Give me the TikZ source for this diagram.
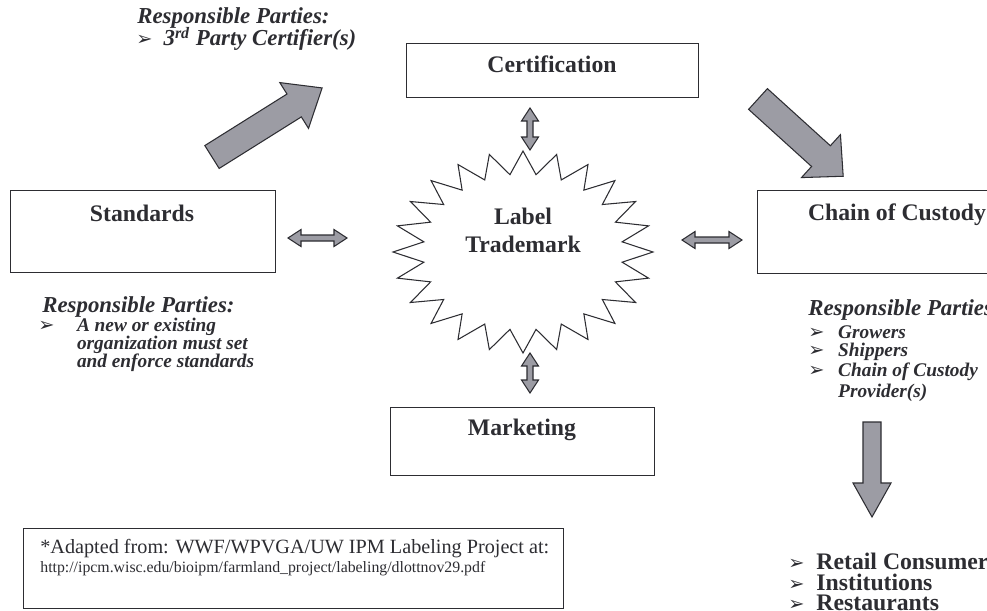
\documentclass[tikz,border=0pt]{standalone}
\usepackage{fontspec}
\setmainfont{Liberation Serif}
\newfontfamily\dejavu{DejaVu Sans}
\usepackage{tikz}
\usetikzlibrary{calc}

\definecolor{arrowgray}{RGB}{156,156,164}
\definecolor{inkgray}{RGB}{45,45,50}

\newcommand{\bul}{{\dejavu\fontsize{11}{11}\selectfont ➢}}

% fat arrow: tail, angle, length, shaft half width, head half width, head length
\newcommand{\fatarrow}[6]{%
  \begin{scope}[shift={(#1)}, rotate=#2]
    \draw[arrow_style] (0,-#4) -- (#3-#6,-#4) -- (#3-#6,-#5) -- (#3,0)
      -- (#3-#6,#5) -- (#3-#6,#4) -- (0,#4) -- cycle;
  \end{scope}}
% small double arrows between two named coordinates
\newcommand{\hdouble}[2]{%
  \draw[arrow_style] (#1) -- ++(13,8.5) -- ++(0,-5.5) -- ($(#2)+(-13,3)$) -- ++(0,5.5)
    -- (#2) -- ++(-13,-8.5) -- ++(0,5.5) -- ($(#1)+(13,-3)$) -- ++(0,-5.5) -- cycle;}
\newcommand{\vdouble}[2]{%
  \draw[arrow_style] (#1) -- ++(8.5,-13) -- ++(-5.5,0) -- ($(#2)+(3,13)$) -- ++(5.5,0)
    -- (#2) -- ++(-8.5,13) -- ++(5.5,0) -- ($(#1)+(-3,-13)$) -- ++(-5.5,0) -- cycle;}

\begin{document}
\begin{tikzpicture}[x=0.02cm, y=0.02cm,
		box_style/.style={draw=inkgray, line width=0.8pt, anchor=north west, inner sep=0pt},
		title_style/.style={text=inkgray, font=\fontsize{13.5}{15}\selectfont\bfseries},
		party_style/.style={text=inkgray, anchor=west, inner sep=0pt, font=\fontsize{13}{14}\selectfont\bfseries\itshape},
		item_style/.style={text=inkgray, anchor=west, inner sep=0pt, font=\fontsize{11}{11}\selectfont\bfseries\itshape},
		list_style/.style={text=inkgray, anchor=west, inner sep=0pt, font=\fontsize{13.5}{14}\selectfont\bfseries},
		arrow_style/.style={draw=inkgray, line width=0.6pt, fill=arrowgray, line join=miter},
		star_style/.style={draw=inkgray, line width=0.6pt, fill=white}]

		\useasboundingbox (0,0) rectangle (987,-610);
		\clip (0,0) rectangle (987,-610);
		\fill[white] (0,0) rectangle (987,-610);

		% boxes
		\node[box_style, minimum width=5.3cm, minimum height=1.64cm] (standards) at (10,-190) {};
		\node[box_style, minimum width=5.84cm, minimum height=1.08cm] (certification) at (406,-43) {};
		\node[box_style, minimum width=5.28cm, minimum height=1.36cm] (marketing) at (390,-407) {};
		\node[box_style, minimum width=5.3cm, minimum height=1.66cm] (custody) at (757,-190) {};
		\node[box_style, minimum width=10.8cm, minimum height=1.6cm] (source) at (23,-528) {};

		\node[title_style] (standardsT) at (142,-213) {Standards};
		\node[title_style] (certificationT) at (552,-64) {Certification};
		\node[title_style] (marketingT) at (522,-430) {Marketing};
		\node[title_style] (custodyT) at (897,-215) {Chain of Custody};

		% label star
		\begin{scope}[shift={(523,-252)}]
			\draw[star_style] (90:130 and 101)
				\foreach \k in {0,...,23} { -- ({97.5+15*\k}:100 and 78) -- ({105+15*\k}:130 and 101) } -- cycle;
		\end{scope}
		\node[title_style, align=center] (label) at (523,-230) {Label\\[1pt]Trademark};

		% double arrows
		\coordinate (stdL) at (288,-238);
		\coordinate (stdR) at (347,-238);
		\coordinate (custL) at (682,-240);
		\coordinate (custR) at (742,-240);
		\coordinate (certT) at (530,-108);
		\coordinate (certB) at (530,-150);
		\coordinate (mktT) at (530,-353);
		\coordinate (mktB) at (530,-393);
		\hdouble{stdL}{stdR}
		\hdouble{custL}{custR}
		\vdouble{certT}{certB}
		\vdouble{mktT}{mktB}

		% big arrows
		\coordinate (toCert) at (212,-157);
		\coordinate (toCustody) at (758,-99);
		\coordinate (toBuyers) at (872,-422);
		\fatarrow{toCert}{32.1}{130}{13.5}{27}{33}
		\fatarrow{toCustody}{-42.2}{115}{14}{29}{30}
		\fatarrow{toBuyers}{-90}{95}{9}{19}{34}

		% responsible parties
		\node[party_style] (certParty) at (137,-18) {Responsible Parties:};
		\node[party_style] (certItem) at (136,-39) {\makebox[15.5pt][l]{\bul}3\textsuperscript{rd} Party Certifier(s)};

		\node[party_style] (stdParty) at (42,-307) {Responsible Parties:};
		\node[item_style] (stdItem1) at (38,-327) {\makebox[22pt][l]{\bul}A new or existing};
		\node[item_style] (stdItem2) at (38,-345) {\hspace*{22pt}organization must set};
		\node[item_style] (stdItem3) at (38,-363) {\hspace*{22pt}and enforce standards};

		\node[party_style] (custParty) at (808,-310) {Responsible Parties:};
		\node[item_style] (custItem1) at (808,-332) {\makebox[17pt][l]{\bul}Growers};
		\node[item_style] (custItem2) at (808,-352) {\makebox[17pt][l]{\bul}Shippers};
		\node[item_style] (custItem3) at (808,-372) {\makebox[17pt][l]{\bul}Chain of Custody};
		\node[item_style] (custItem4) at (808,-393) {\hspace*{17pt}Provider(s)};

		% buyers
		\node[list_style] (retail) at (788,-561) {\makebox[16pt][l]{\bul}Retail Consumers};
		\node[list_style] (institutions) at (788,-582) {\makebox[16pt][l]{\bul}Institutions};
		\node[list_style] (restaurants) at (788,-603) {\makebox[16pt][l]{\bul}Restaurants};

		% source note
		\node[text=inkgray, anchor=north west, inner sep=0pt, align=left, font=\fontsize{11.5}{12}\selectfont] (sourceT) at (40,-539)
			{*Adapted from: WWF/WPVGA/UW IPM Labeling Project at:\\[-1pt]
			{\fontsize{9}{10}\selectfont http://ipcm.wisc.edu/bioipm/farmland\_project/labeling/dlottnov29.pdf}};

\end{tikzpicture}
\end{document}
